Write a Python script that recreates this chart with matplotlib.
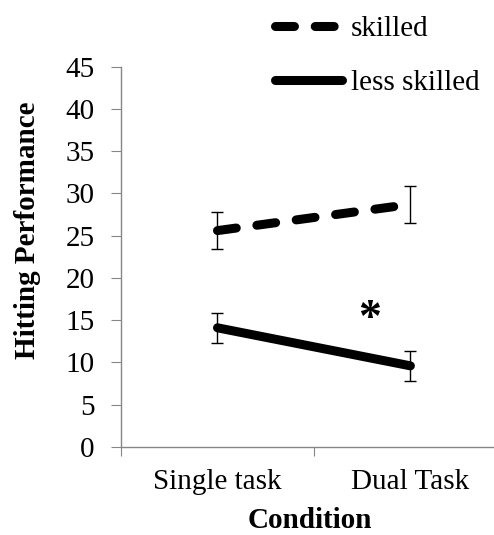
import matplotlib.pyplot as plt
from matplotlib.lines import Line2D

conditions = ['Single task', 'Dual Task']
skilled = [25.6, 28.7]
skilled_err = [2.15, 2.15]
less_skilled = [14.1, 9.6]
less_skilled_err = [1.8, 1.8]
yticks = list(range(0, 50, 5))

plt.rcParams['font.family'] = ['Liberation Serif', 'DejaVu Serif']
fs = 21

fig = plt.figure(figsize=(4.94, 5.35), dpi=100)
ax = fig.add_axes([0.245, 0.1645, 0.781, 0.711])

x = [0.5, 1.5]
lw = 6.5
dash = (0, (2.1, 2.3))
ax.errorbar(x, skilled, yerr=skilled_err, fmt='none', ecolor='black', elinewidth=1, capsize=4.5, capthick=1)
ax.errorbar(x, less_skilled, yerr=less_skilled_err, fmt='none', ecolor='black', elinewidth=1, capsize=4.5, capthick=1)
ax.plot(x, skilled, color='black', linewidth=lw, linestyle=dash, dash_capstyle='round')
ax.plot(x, less_skilled, color='black', linewidth=lw, solid_capstyle='round')

# significance marker
ax.text(1.29, 15.0, '*', fontsize=33, fontweight='bold', ha='center', va='center')

ax.set_xlim(0, 2)
ax.set_ylim(0, 45)
ax.set_yticks(yticks)
ax.set_xticks([0, 1, 2])
ax.set_xticklabels([])
ax.set_xticks(x, minor=True)
ax.set_xticklabels(conditions, minor=True)
ax.tick_params(axis='x', which='minor', length=0, pad=16, labelsize=fs)
ax.tick_params(axis='x', which='major', direction='out', length=6.5, color='#868686')
ax.tick_params(axis='y', direction='out', length=7, color='#868686', labelsize=fs, pad=12)

for s in ['top', 'right']:
    ax.spines[s].set_visible(False)
for s in ['left', 'bottom']:
    ax.spines[s].set_color('#868686')
    ax.spines[s].set_linewidth(1)

ax.set_xlabel('Condition', fontsize=fs, fontweight='bold')
ax.set_ylabel('Hitting Performance', fontsize=fs, fontweight='bold')
ax.xaxis.set_label_coords(0.49, -0.158)
ax.yaxis.set_label_coords(-0.207, 0.571)

handles = [Line2D([], [], color='black', linewidth=lw, linestyle=dash, dash_capstyle='round'),
           Line2D([], [], color='black', linewidth=lw, solid_capstyle='round')]
fig.legend(handles, ['skilled', 'less skilled'], loc='upper left', bbox_to_anchor=(0.503, 1.02),
           frameon=False, fontsize=fs, handlelength=2.3, handletextpad=0.3, labelspacing=0.96)

fig.savefig('out.png', dpi=100)
